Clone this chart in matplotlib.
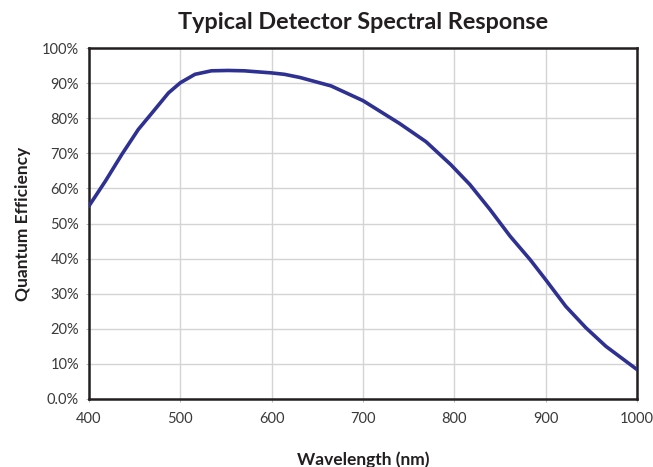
import matplotlib.pyplot as plt
import numpy as np

# Kurva respon spektral detektor
wavelength = [400, 418, 436, 454, 469, 487, 500, 516, 534, 552, 570, 600, 614, 631,
              665, 700, 740, 769, 796, 817, 839, 861, 883, 900, 922, 944, 966, 984, 1000]
qe = [55.0, 62.1, 69.7, 76.8, 81.5, 87.2, 90.1, 92.5, 93.5, 93.6, 93.5, 92.9, 92.5, 91.6,
      89.2, 85.0, 78.5, 73.3, 66.8, 61.1, 54.0, 46.4, 39.7, 34.0, 26.4, 20.3, 15.0, 11.5, 8.4]

x_ticks = [400, 500, 600, 700, 800, 900, 1000]
y_ticks = [0, 10, 20, 30, 40, 50, 60, 70, 80, 90, 100]
y_labels = ['0.0%'] + [f'{v}%' for v in y_ticks[1:]]

plt.rcParams['font.family'] = ['Lato', 'DejaVu Sans']

W, H = 653, 467
fig = plt.figure(figsize=(W / 100, H / 100), dpi=100)
ax = fig.add_axes([89 / W, 1 - 399 / H, (637 - 89) / W, (399 - 48) / H])

ax.plot(wavelength, qe, color='#2e3192', lw=2.6, solid_joinstyle='round', zorder=3)

ax.set_xlim(400, 1000)
ax.set_ylim(0, 100)
ax.set_xticks(x_ticks)
ax.set_yticks(y_ticks)
ax.set_yticklabels(y_labels)
ax.grid(True, color='#d4d4d4', lw=1)
ax.tick_params(axis='both', length=2.2, width=0.8, color='#bbbbbb',
               labelsize=10.5, labelcolor='#3a3a3a')
ax.tick_params(axis='x', pad=7.5)
ax.tick_params(axis='y', pad=5)
for s in ax.spines.values():
    s.set_linewidth(1.8)
    s.set_color('#231f20')

ax.set_title('Typical Detector Spectral Response', fontsize=16.8, fontweight='bold',
             color='#231f20', pad=14)
fig.text(363 / W, 1 - 465.5 / H, 'Wavelength (nm)', fontsize=12.5, fontweight='bold',
         color='#231f20', ha='center', va='baseline')
fig.text(23.5 / W, 1 - 223.5 / H, 'Quantum Efficiency', fontsize=12.5, fontweight='bold',
         color='#231f20', ha='center', va='center', rotation=90)

fig.savefig('out.png', dpi=100)
